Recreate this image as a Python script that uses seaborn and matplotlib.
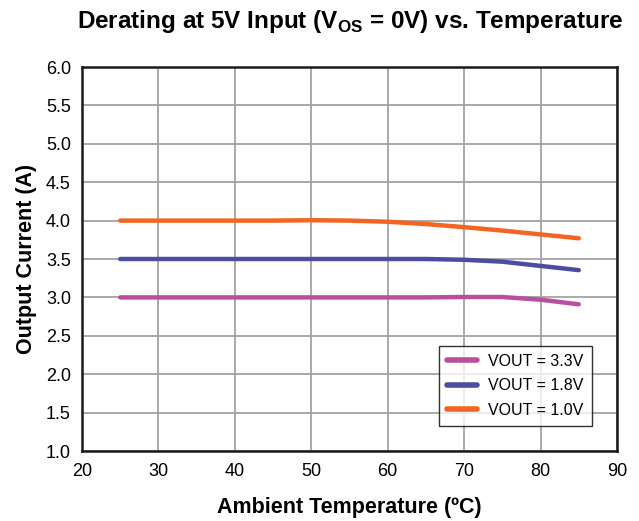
import matplotlib
matplotlib.use("Agg")
import matplotlib.pyplot as plt
import seaborn as sns
import pandas as pd

temps = [25, 30, 35, 40, 45, 50, 55, 60, 65, 70, 75, 80, 85]
vout_33 = [3.00, 3.00, 3.00, 3.00, 3.00, 3.00, 3.00, 3.00, 3.00, 3.005, 3.005, 2.97, 2.91]
vout_18 = [3.50, 3.50, 3.50, 3.50, 3.50, 3.50, 3.50, 3.50, 3.50, 3.49, 3.465, 3.41, 3.355]
vout_10 = [4.00, 4.00, 4.00, 4.00, 4.00, 4.005, 4.00, 3.985, 3.955, 3.915, 3.87, 3.82, 3.77]
series_names = ["VOUT = 3.3V", "VOUT = 1.8V", "VOUT = 1.0V"]
colors = ["#B94F9E", "#4B4DA0", "#F26522"]

rows = []
for name, vals in zip(series_names, [vout_33, vout_18, vout_10]):
    for t, v in zip(temps, vals):
        rows.append({"temp": t, "current": v, "series": name})
df = pd.DataFrame(rows)

sns.set_style("white")
plt.rcParams["font.family"] = ["Liberation Sans", "DejaVu Sans"]
plt.rcParams["mathtext.fontset"] = "custom"
plt.rcParams["mathtext.rm"] = "Liberation Sans"
plt.rcParams["mathtext.bf"] = "Liberation Sans:bold"
plt.rcParams["text.color"] = "black"
plt.rcParams["axes.labelcolor"] = "black"
plt.rcParams["xtick.color"] = "black"
plt.rcParams["ytick.color"] = "black"

fig = plt.figure(figsize=(6.39, 5.21), dpi=100)
ax = fig.add_axes([82/639, 1-451/521, (617-82)/639, (451-67)/521])

sns.lineplot(data=df, x="temp", y="current", hue="series", hue_order=series_names,
             palette=colors, linewidth=3.2, ax=ax, solid_capstyle="round")

ax.set_xlim(20, 90)
ax.set_ylim(1.0, 6.0)
ax.set_xticks(range(20, 91, 10))
ax.set_yticks([1.0 + 0.5*i for i in range(11)])
ax.set_yticklabels([f"{1.0 + 0.5*i:.1f}" for i in range(11)])
ax.tick_params(axis="both", labelsize=13, length=0)
ax.tick_params(axis="x", pad=9)
ax.tick_params(axis="y", pad=8)
ax.grid(True, color="#a3a3a3", linewidth=1.3)
ax.set_axisbelow(True)
for s in ax.spines.values():
    s.set_color("#1a1a1a")
    s.set_linewidth(1.8)

ax.set_xlabel("Ambient Temperature (ºC)", fontsize=15.5, fontweight="bold", labelpad=12)
ax.set_ylabel("Output Current (A)", fontsize=15.5, fontweight="bold", labelpad=6)
fig.suptitle(r"Derating at 5V Input (V$_{\mathbf{OS}}$ = 0V) vs. Temperature",
             x=(79+622)/2/639, y=1-8/521, va="top", fontsize=17.5, fontweight="bold")

leg = ax.legend(loc="lower right", bbox_to_anchor=(0.953, 0.065), borderaxespad=0,
                fontsize=11.5, frameon=True, fancybox=False, edgecolor="black",
                handlelength=1.9, borderpad=0.5, labelspacing=0.6, handletextpad=0.7)
leg.get_frame().set_linewidth(1.0)
for line in leg.get_lines():
    line.set_linewidth(4)
    line.set_solid_capstyle("round")

fig.savefig("out.png", dpi=100)
